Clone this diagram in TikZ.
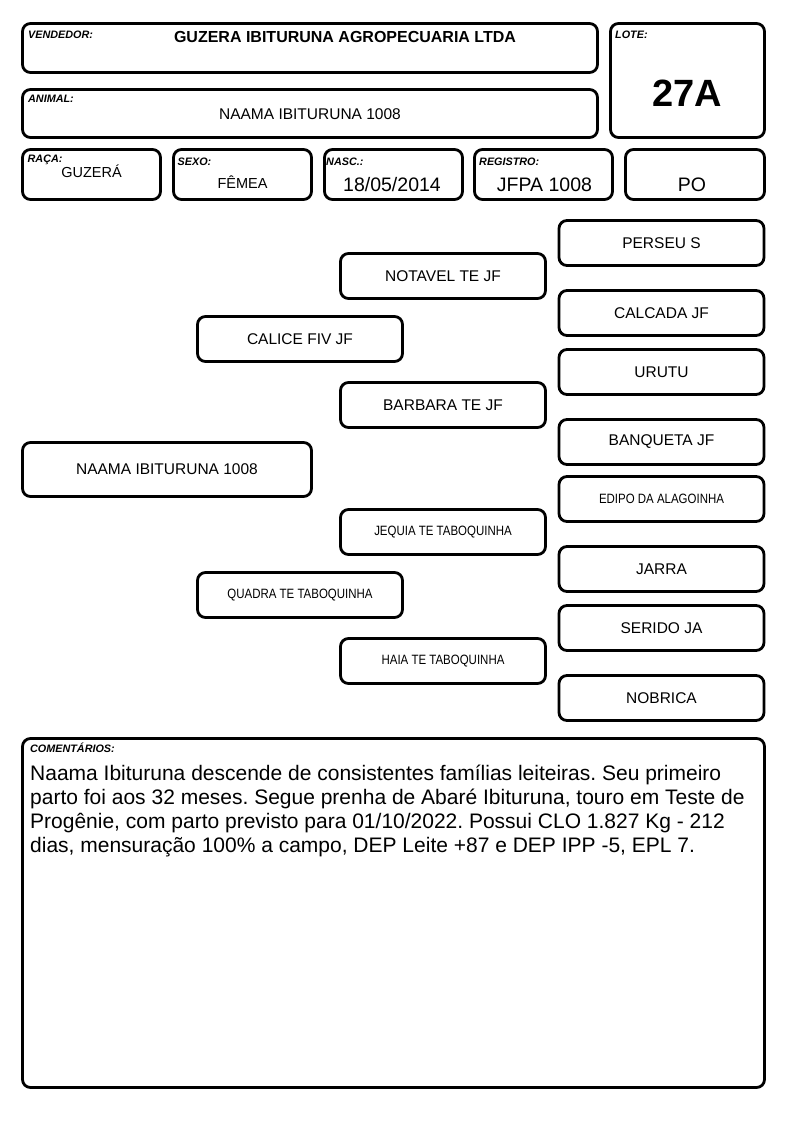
\documentclass[tikz,border=0pt]{standalone}
\usepackage{fontspec}
\setmainfont{Liberation Sans}
\newfontfamily\narrowfont[FakeStretch=0.85]{Liberation Sans}
\newcommand\tagfont{\fontsize{10.8}{13}\selectfont\bfseries\itshape}
\newcommand\namefont{\fontsize{15.5}{18}\selectfont}
\newcommand\narrowname{\narrowfont\fontsize{13.5}{16}\selectfont}
\newcommand\datafont{\fontsize{19.5}{22}\selectfont}
\newcommand\notefont{\fontsize{21}{24}\selectfont}
\frenchspacing
\begin{document}
\begin{tikzpicture}
        [x=1pt,y=-1pt,
        cell/.style={draw,line width=2.8pt,rounded corners=8pt,inner sep=0pt},%
        pedname/.style={cell,minimum width=205pt,minimum height=45pt,font=\namefont},%
        pednarrow/.style={pedname,font=\narrowname},%
        tag/.style={anchor=base west,inner sep=0pt,font=\tagfont},%
        value/.style={anchor=base,inner sep=0pt}]
        \useasboundingbox (0,0) rectangle (794,1123);
        %% header boxes

        \foreach \boxname/\x/\y/\w/\h in { vendedor/310/48/575/49,
          lote/687.5/80.5/154/114, animal/310/113.5/575/48, raca/91.5/174.5/138/50,
          sexo/242.5/174.5/138/50, nasc/393.5/174.5/138/50, registro/543.5/174.5/138/50,
          po/695/174.5/139/50, comentarios/393.5/913/742/349}
        {
          \node (\boxname) at (\x,\y) [cell,minimum width=\w pt,minimum height=\h pt] {};
        }
        %% header labels
        \node (vendedortag) at (28,38.5) [tag] {VENDEDOR:};
        \node (lotetag) at (615,38.5) [tag] {LOTE:};
        \node (animaltag) at (28,102.5) [tag] {ANIMAL:};
        \node (racatag) at (27.5,163) [tag] {RAÇA:};
        \node (sexotag) at (177.5,165.5) [tag] {SEXO:};
        \node (nasctag) at (326,165.5) [tag] {NASC.:};
        \node (registrotag) at (479,165.5) [tag] {REGISTRO:};
        \node (comentariostag) at (30,752.5) [tag] {COMENTÁRIOS:};
        %% header values
        \node (vendedorvalue) at (345,42.5) [value,font=\fontsize{16}{19}\selectfont\bfseries]
          {GUZERA IBITURUNA AGROPECUARIA LTDA};
        \node (lotevalue) at (687.5,106.7) [value,font=\fontsize{38}{42}\selectfont\bfseries] {27A};
        \node (animalvalue) at (310,120) [value,font=\namefont] {NAAMA IBITURUNA 1008};
        \node (racavalue) at (91.5,177.3) [value,font=\fontsize{14.5}{17}\selectfont] {GUZERÁ};
        \node (sexovalue) at (242.5,189) [value,font=\fontsize{14.5}{17}\selectfont] {FÊMEA};
        \node (nascvalue) at (392,191.7) [value,font=\datafont] {18/05/2014};
        \node (registrovalue) at (544.5,191.7) [value,font=\datafont] {JFPA 1008};
        \node (povalue) at (692,191.7) [value,font=\datafont] {PO};
        %% pedigree

        \node (animal0) at (167,469.5) [pedname,minimum width=289pt,minimum height=54pt]
          {NAAMA IBITURUNA 1008};
        \foreach \nodename/\x/\y/\kind/\label in { pai/300/339/pedname/CALICE FIV JF,
          mae/300/595/pednarrow/QUADRA TE TABOQUINHA,
          avopp/443/276/pedname/NOTAVEL TE JF, avopm/443/405/pedname/BARBARA TE JF,
          avomp/443/532/pednarrow/JEQUIA TE TABOQUINHA, avomm/443/661/pednarrow/HAIA TE TABOQUINHA,
          bisa/661.5/243/pedname/PERSEU S, bisb/661.5/313/pedname/CALCADA JF,
          bisc/661.5/372/pedname/URUTU, bisd/661.5/442/pedname/BANQUETA JF,
          bise/661.5/499/pednarrow/EDIPO DA ALAGOINHA, bisf/661.5/569/pedname/JARRA,
          bisg/661.5/628/pedname/SERIDO JA, bish/661.5/698/pedname/NOBRICA}
        {
          \node (\nodename) at (\x,\y) [\kind] {\label};
        }
        %% comments
        \foreach \line [count=\i] in {
          {Naama Ibituruna descende de consistentes famílias leiteiras. Seu primeiro},
          {parto foi aos 32 meses. Segue prenha de Abaré Ibituruna, touro em Teste de},
          {Progênie, com parto previsto para 01/10/2022. Possui CLO 1.827 Kg - 212},
          {dias, mensuração 100\% a campo, DEP Leite +87 e DEP IPP -5, EPL 7.}}
        {
          \node (nota\i) at (30,780+24.2*\i-24.2) [anchor=base west,inner sep=0pt,font=\notefont] {\line};
        }
      \end{tikzpicture}
\end{document}
